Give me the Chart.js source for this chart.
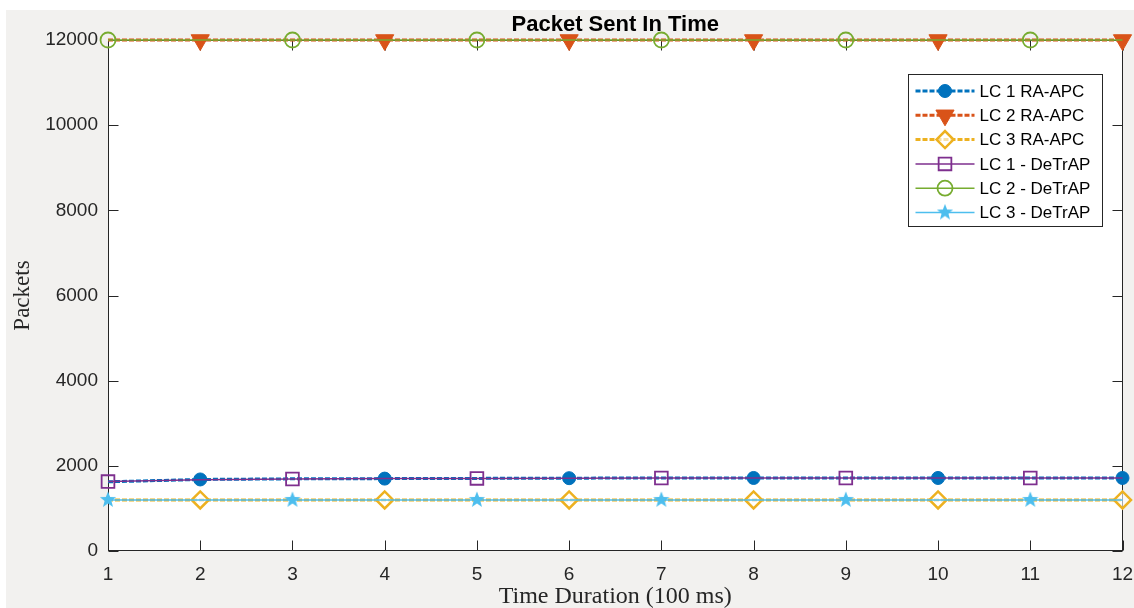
<!DOCTYPE html>
<html>
<head>
<meta charset="utf-8">
<script src="https://cdn.jsdelivr.net/npm/chart.js@4/dist/chart.umd.min.js"></script>
<style>
    body { margin: 0; background: #fff; overflow: hidden; }
    #fig { position: absolute; left: 6px; top: 10px; width: 1128px; height: 598px; background: #f2f1ef; }
</style>
</head>
<body>
<div id="fig"><canvas id="ChPackets"></canvas></div>
<script>
// data
const TimeSteps = ['1', '2', '3', '4', '5', '6', '7', '8', '9', '10', '11', '12'];
const YTicks = [0, 2000, 4000, 6000, 8000, 10000, 12000];

const Lc1RaApc = [1625, 1680, 1695, 1700, 1705, 1710, 1715, 1715, 1715, 1715, 1715, 1715];
const Lc2RaApc = [12000, 12000, 12000, 12000, 12000, 12000, 12000, 12000, 12000, 12000, 12000, 12000];
const Lc3RaApc = [1200, 1200, 1200, 1200, 1200, 1200, 1200, 1200, 1200, 1200, 1200, 1200];
const Lc1DeTrAP = [1630, 1675, 1690, 1700, 1705, 1710, 1715, 1715, 1715, 1715, 1715, 1715];
const Lc2DeTrAP = [12000, 12000, 12000, 12000, 12000, 12000, 12000, 12000, 12000, 12000, 12000, 12000];
const Lc3DeTrAP = [1200, 1200, 1200, 1200, 1200, 1200, 1200, 1200, 1200, 1200, 1200, 1200];

const AxisColor = '#262626';
const SansFont = "'Liberation Sans', Arial, sans-serif";
const SerifFont = "'Liberation Serif', 'Times New Roman', serif";

// filled pentagram marker
const MakeStar = (color) => {
    const c = document.createElement('canvas');
    c.width = 18; c.height = 18;
    const g = c.getContext('2d');
    g.beginPath();
    for (let i = 0; i < 10; i++) {
        const r = i % 2 === 0 ? 8.5 : 3.6;
        const a = -Math.PI / 2 + i * Math.PI / 5;
        g.lineTo(9 + r * Math.cos(a), 9 + r * Math.sin(a));
    }
    g.closePath();
    g.fillStyle = color;
    g.fill();
    return c;
};

// markers on every other point, like the original
const MarkAt = (r, even) => TimeSteps.map((t, i) => (i % 2 === (even ? 0 : 1)) ? r : 0);

const MakeSet = (label, data, color, opts) => Object.assign({
    label: label,
    data: data,
    borderColor: color,
    pointBorderColor: color,
    backgroundColor: color,
    pointBackgroundColor: color,
    tension: 0,
    clip: false,
    fill: false
}, opts);

const Datasets = [
    MakeSet('LC 1 RA-APC', Lc1RaApc, '#0072BD', {
        borderWidth: 3, borderDash: [5, 2], pointStyle: 'circle',
        pointRadius: MarkAt(6.5, false), pointBorderWidth: 1
    }),
    MakeSet('LC 2 RA-APC', Lc2RaApc, '#D95319', {
        borderWidth: 3, borderDash: [5, 2], pointStyle: 'triangle', pointRotation: 180,
        pointRadius: MarkAt(10.5, false), pointBorderWidth: 1
    }),
    MakeSet('LC 3 RA-APC', Lc3RaApc, '#EDB120', {
        borderWidth: 3, borderDash: [5, 2], pointStyle: 'rectRot',
        pointBackgroundColor: 'rgba(255,255,255,0.6)',
        pointRadius: MarkAt(8.5, false), pointBorderWidth: 2.5
    }),
    MakeSet('LC 1 - DeTrAP', Lc1DeTrAP, '#7E2F8E', {
        borderWidth: 1.5, pointStyle: 'rect', pointBackgroundColor: 'rgba(255,255,255,0)',
        pointRadius: MarkAt(9, true), pointBorderWidth: 1.8
    }),
    MakeSet('LC 2 - DeTrAP', Lc2DeTrAP, '#77AC30', {
        borderWidth: 1.5, pointStyle: 'circle', pointBackgroundColor: 'rgba(255,255,255,0)',
        pointRadius: MarkAt(7.5, true), pointBorderWidth: 1.8
    }),
    MakeSet('LC 3 - DeTrAP', Lc3DeTrAP, '#4DBEEE', {
        borderWidth: 1.5, pointStyle: MakeStar('#4DBEEE'),
        pointRadius: MarkAt(8, true), pointBorderWidth: 1
    })
];
// later series on top, as in the source figure
Datasets.forEach((d, i) => { d.order = Datasets.length - i; });

const BoxPlugin = {
    id: 'box',
    beforeDraw(chart) {
        const { ctx, chartArea: a } = chart;
        ctx.save();
        ctx.fillStyle = '#fff';
        ctx.fillRect(a.left, a.top, a.width, a.height);
        ctx.restore();
    },
    beforeDatasetsDraw(chart) {
        const { ctx, chartArea: a, scales } = chart;
        const L = Math.round(a.left) + 0.5, R = Math.round(a.right) - 0.5;
        const T = Math.round(a.top) + 0.5, B = Math.round(a.bottom) - 0.5;
        ctx.save();
        ctx.strokeStyle = AxisColor;
        ctx.lineWidth = 1;
        ctx.strokeRect(L, T, R - L, B - T);
        ctx.beginPath();
        scales.x.ticks.forEach((t, i) => {
            const px = Math.round(scales.x.getPixelForTick(i)) + 0.5;
            ctx.moveTo(px, B); ctx.lineTo(px, B - 10);
            ctx.moveTo(px, T); ctx.lineTo(px, T + 10);
        });
        scales.y.ticks.forEach((t) => {
            const py = Math.round(scales.y.getPixelForValue(t.value)) + 0.5;
            ctx.moveTo(L, py); ctx.lineTo(L + 10, py);
            ctx.moveTo(R, py); ctx.lineTo(R - 10, py);
        });
        ctx.stroke();
        ctx.restore();
    }
};

const LegendPlugin = {
    id: 'boxLegend',
    afterDraw(chart) {
        const { ctx, chartArea: a } = chart;
        const w = 194, h = 152;
        const x0 = Math.round(a.right - 21 - w) + 0.5;
        const y0 = Math.round(a.top + 34) + 0.5;
        ctx.save();
        ctx.fillStyle = '#fff';
        ctx.fillRect(x0, y0, w, h);
        ctx.strokeStyle = AxisColor;
        ctx.lineWidth = 1;
        ctx.strokeRect(x0, y0, w, h);
        ctx.font = '17px ' + SansFont;
        ctx.textBaseline = 'middle';
        chart.data.datasets.forEach((d, i) => {
            const cy = y0 + 16.5 + i * 24.3;
            ctx.save();
            ctx.strokeStyle = d.borderColor;
            ctx.lineWidth = d.borderWidth;
            ctx.setLineDash(d.borderDash || []);
            ctx.beginPath();
            ctx.moveTo(x0 + 7, cy);
            ctx.lineTo(x0 + 66, cy);
            ctx.stroke();
            ctx.setLineDash([]);
            ctx.fillStyle = d.pointBackgroundColor;
            ctx.strokeStyle = d.pointBorderColor;
            ctx.lineWidth = d.pointBorderWidth;
            const r = Math.max.apply(null, d.pointRadius);
            Chart.helpers.drawPoint(ctx, {
                pointStyle: d.pointStyle, radius: r, rotation: d.pointRotation || 0,
                borderWidth: d.pointBorderWidth
            }, x0 + 36.5, cy);
            ctx.restore();
            ctx.fillStyle = '#000';
            ctx.fillText(d.label, x0 + 71, cy + 1);
        });
        ctx.restore();
    }
};

const ChPackets = new Chart(document.getElementById('ChPackets'), {
    type: 'line',
    data: { labels: TimeSteps, datasets: Datasets },
    plugins: [BoxPlugin, LegendPlugin],
    options: {
        responsive: true,
        maintainAspectRatio: false,
        devicePixelRatio: 1,
        animation: false,
        layout: { padding: { left: 0, right: 11, top: 0, bottom: 0 } },
        plugins: {
            legend: { display: false },
            tooltip: { enabled: false },
            title: {
                display: true,
                text: 'Packet Sent In Time',
                fullSize: false,
                color: '#000',
                font: { family: SansFont, size: 22, weight: 'bold' },
                padding: { top: 2, bottom: 1.6 }
            }
        },
        scales: {
            x: {
                type: 'category',
                offset: false,
                grid: { display: false, drawTicks: false },
                border: { display: false },
                ticks: {
                    color: AxisColor, padding: 12, maxRotation: 0, autoSkip: false,
                    font: { family: SansFont, size: 19 }
                },
                title: {
                    display: true, text: 'Time Duration (100 ms)', color: AxisColor,
                    font: { family: SerifFont, size: 24, lineHeight: 0.9 }, padding: { top: 0, bottom: 0 }
                },
                afterFit: (s) => { s.height = 57; s.paddingLeft = 0; s.paddingRight = 0; }
            },
            y: {
                min: 0,
                max: 12000,
                grid: { display: false, drawTicks: false },
                border: { display: false },
                afterBuildTicks: (s) => { s.ticks = YTicks.map(v => ({ value: v })); },
                ticks: {
                    color: AxisColor, padding: 10,
                    font: { family: SansFont, size: 19 },
                    callback: (v) => String(v)
                },
                title: {
                    display: true, text: 'Packets', color: AxisColor,
                    font: { family: SerifFont, size: 23 }, padding: { top: 3, bottom: 0 }
                },
                afterFit: (s) => { s.width = 102; s.paddingTop = 0; s.paddingBottom = 0; }
            }
        }
    }
});
</script>
</body>
</html>
